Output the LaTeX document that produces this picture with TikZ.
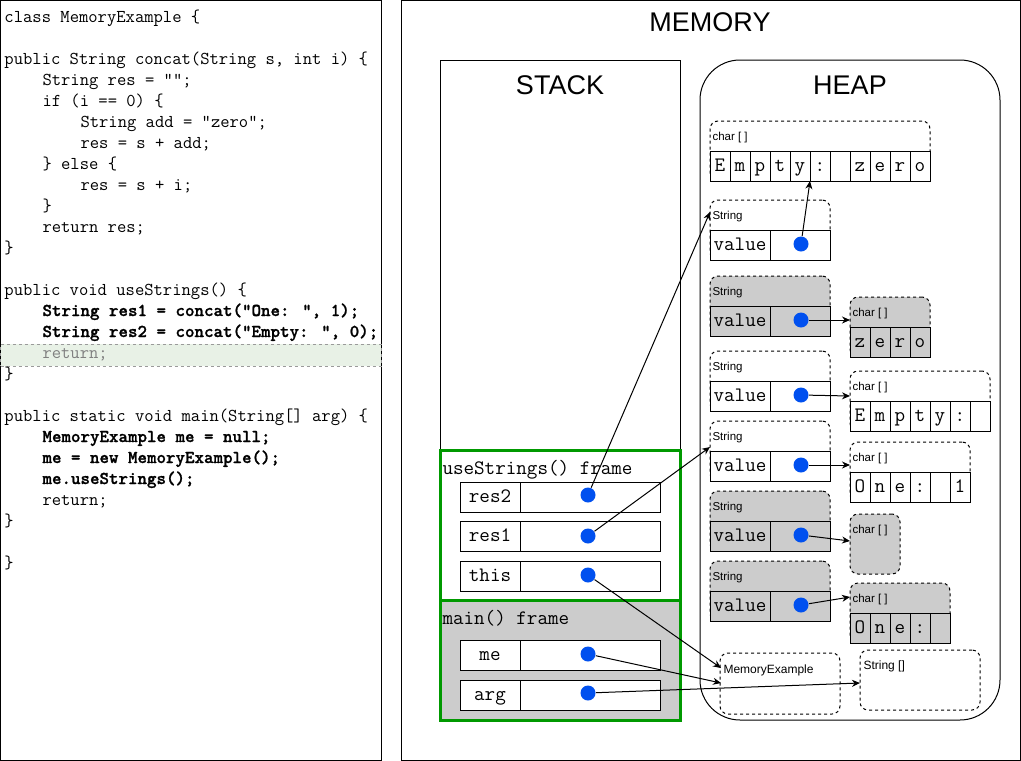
\documentclass[tikz,border=0pt]{standalone}
\usepackage{fontspec}
\setmainfont{Liberation Sans}
\newfontfamily\cbold[FakeBold=1.2]{lmmonolt10-bold.otf}
\usetikzlibrary{arrows.meta,calc}
\definecolor{dotblue}{HTML}{0050EF}
\definecolor{framegreen}{HTML}{009900}
\definecolor{boxgray}{HTML}{CCCCCC}
\definecolor{hlgreen}{HTML}{E8F1E6}
\definecolor{hlline}{HTML}{9A9A9A}
\definecolor{codegray}{HTML}{808080}
\tikzset{
  box/.style={draw, rectangle, inner sep=0pt, outer sep=0pt, anchor=north west},
  hdr/.style={dash pattern=on 3pt off 3pt, rounded corners=8pt},
  code/.style={font=\ttfamily\fontsize{18.1}{18.1}\selectfont, anchor=base west, inner sep=0pt},
  codeb/.style={code, font=\cbold\fontsize{18.1}{18.1}\selectfont},
  mono/.style={font=\ttfamily\fontsize{20.5}{20.5}\selectfont, text height=14pt, text depth=3pt},
  framelbl/.style={font=\ttfamily\fontsize{20.5}{20.5}\selectfont, anchor=base west, inner sep=0pt},
  title/.style={font=\fontsize{27}{27}\selectfont, inner sep=0pt},
  lbl/.style={font=\fontsize{11.5}{11.5}\selectfont, anchor=base west, inner sep=0pt},
  dot/.style={circle, fill=dotblue, draw=none, inner sep=0pt, minimum size=15pt},
  ptr/.style={-{Stealth[length=8pt,width=7pt]}, line width=1pt},
  frame/.style={box, draw=framegreen, line width=3pt},
}
\newcommand\strobj[3]{%
  \node[box, hdr, fill=#3, minimum width=120, minimum height=60] (#1) at (710,#2) {};
  \node[lbl] (#1l) at (712,{#2+19}) {String};
  \node[box, mono, fill=#3, minimum width=60, minimum height=30] (#1v) at (710,{#2+30}) {value};
  \node[box, fill=#3, minimum width=60, minimum height=30] (#1p) at (770,{#2+30}) {};
  \node[dot] (#1d) at (801,{#2+44}) {};
}
\newcommand\chararr[6]{%
  \node[box, hdr, fill=#4, minimum width=20*#5, minimum height=60] (#1) at (#2,#3) {};
  \node[lbl] (#1l) at ({#2+2},{#3+19}) {char [ ]};
  \foreach \ch [count=\i] in {#6} {
    \node[box, mono, fill=#4, minimum width=20, minimum height=30] (#1c\i) at ({#2+20*(\i-1)},{#3+30}) {\ch};
  }
}
\begin{document}
\begin{tikzpicture}[x=1pt, y=-1pt, line width=1pt]
\useasboundingbox (0,0) rectangle (1021,761);

% ---------- code panel ----------
\node[box, minimum width=380.5, minimum height=759.5] (codepanel) at (0.5,0.5) {};
\node[box, fill=hlgreen, draw=hlline, dash pattern=on 3pt off 3pt, minimum width=380.5, minimum height=22] (hl) at (0.5,344) {};

\node[code] (l0) at (4,22) {class MemoryExample \{};
\node[code] (l2) at (4,64) {public String concat(String s, int i) \{};
\node[code] (l3) at (42,85) {String res = "";};
\node[code] (l4) at (42,106) {if (i == 0) \{};
\node[code] (l5) at (80,127) {String add = "zero";};
\node[code] (l6) at (80,148) {res = s + add;};
\node[code] (l7) at (42,169) {\} else \{};
\node[code] (l8) at (80,190) {res = s + i;};
\node[code] (l9) at (42,211) {\}};
\node[code] (l10) at (42,232) {return res;};
\node[code] (l11) at (4,253) {\}};
\node[code] (l13) at (4,295) {public void useStrings() \{};
\node[codeb] (l14) at (42,316) {String res1 = concat("One: ", 1);};
\node[codeb] (l15) at (42,337) {String res2 = concat("Empty: ", 0);};
\node[code, text=codegray] (l16) at (42,358) {return;};
\node[code] (l17) at (4,379) {\}};
\node[code] (l19) at (4,421) {public static void main(String[] arg) \{};
\node[codeb] (l20) at (42,442) {MemoryExample me = null;};
\node[codeb] (l21) at (42,463) {me = new MemoryExample();};
\node[codeb] (l22) at (42,484) {me.useStrings();};
\node[code] (l23) at (42,505) {return;};
\node[code] (l24) at (4,526) {\}};
\node[code] (l26) at (4,568) {\}};

% ---------- memory panel ----------
\node[box, minimum width=619.5, minimum height=759.5] (mem) at (401,0.5) {};
\node[title] (memt) at (710,22) {MEMORY};

% stack
\node[box, minimum width=240, minimum height=660] (stack) at (440,60) {};
\node[title] (stackt) at (560,85) {STACK};
\node[box, fill=boxgray, draw=none, minimum width=240, minimum height=120] (mainbg) at (440,600) {};

\node[framelbl] (usf) at (442,474) {useStrings() frame};
\node[framelbl] (mf) at (442,624) {main() frame};

\node[box, mono, fill=white, minimum width=60, minimum height=30] (r2l) at (460,482) {res2};
\node[box, fill=white, minimum width=140, minimum height=30] (r2v) at (520,482) {};
\node[box, mono, fill=white, minimum width=60, minimum height=30] (r1l) at (460,521) {res1};
\node[box, fill=white, minimum width=140, minimum height=30] (r1v) at (520,521) {};
\node[box, mono, fill=white, minimum width=60, minimum height=30] (thl) at (460,561) {this};
\node[box, fill=white, minimum width=140, minimum height=30] (thv) at (520,561) {};
\node[box, mono, fill=white, minimum width=60, minimum height=30] (mel) at (460,640) {me};
\node[box, fill=white, minimum width=140, minimum height=30] (mev) at (520,640) {};
\node[box, mono, fill=white, minimum width=60, minimum height=30] (agl) at (460,680) {arg};
\node[box, fill=white, minimum width=140, minimum height=30] (agv) at (520,680) {};

\node[dot] (r2d) at (588,495) {};
\node[dot] (r1d) at (588,536) {};
\node[dot] (thd) at (588,575) {};
\node[dot] (med) at (588,654) {};
\node[dot] (agd) at (588,693) {};

\node[frame, minimum width=240, minimum height=150] (usframe) at (440,450) {};
\node[frame, minimum width=240, minimum height=120] (mainframe) at (440,600) {};

% heap
\node[box, rounded corners=40pt, minimum width=300, minimum height=660] (heap) at (700,60) {};
\node[title] (heapt) at (850,85) {HEAP};

\chararr{cA}{710}{121}{white}{11}{E,m,p,t,y,:,{},z,e,r,o}
\strobj{s1}{200}{white}
\strobj{s2}{276}{boxgray}
\chararr{cB}{850}{297}{boxgray}{4}{z,e,r,o}
\strobj{s3}{351}{white}
\chararr{cC}{850}{371}{white}{7}{E,m,p,t,y,:,{}}
\strobj{s4}{421}{white}
\chararr{cD}{850}{442}{white}{6}{O,n,e,:,{},1}
\strobj{s5}{491}{boxgray}
\node[box, hdr, fill=boxgray, minimum width=50, minimum height=60] (cE) at (850,514) {};
\node[lbl] (cEl) at (852,533) {char [ ]};
\strobj{s6}{561}{boxgray}
\chararr{cF}{850}{583}{boxgray}{5}{O,n,e,:,{}}

\node[box, hdr, minimum width=120, minimum height=61] (mex) at (720,653) {};
\node[lbl, font=\fontsize{12}{12}\selectfont] (mexl) at (723,673) {MemoryExample};
\node[box, hdr, minimum width=120, minimum height=60] (sarr) at (860,650) {};
\node[lbl, font=\fontsize{12}{12}\selectfont] (sarrl) at (863,669) {String []};

% pointers
\draw[ptr] (r2d) -- ($(s1.north west)+(0,12)$);
\draw[ptr] (r1d) -- ($(s4.north west)+(0,26)$);
\draw[ptr] (thd) -- ($(mex.north west)+(1,15)$);
\draw[ptr] (med) -- ($(mex.north west)+(1,30)$);
\draw[ptr] (agd) -- ($(sarr.north west)+(0,33)$);
\draw[ptr] (s1d) -- ($(cA.south west)+(100,0)$);
\draw[ptr] (s2d) -- ($(cB.north west)+(0,23)$);
\draw[ptr] (s3d) -- ($(cC.north west)+(0,25)$);
\draw[ptr] (s4d) -- ($(cD.north west)+(0,23)$);
\draw[ptr] (s5d) -- ($(cE.north west)+(0,27)$);
\draw[ptr] (s6d) -- ($(cF.north west)+(0,14)$);
\end{tikzpicture}
\end{document}
